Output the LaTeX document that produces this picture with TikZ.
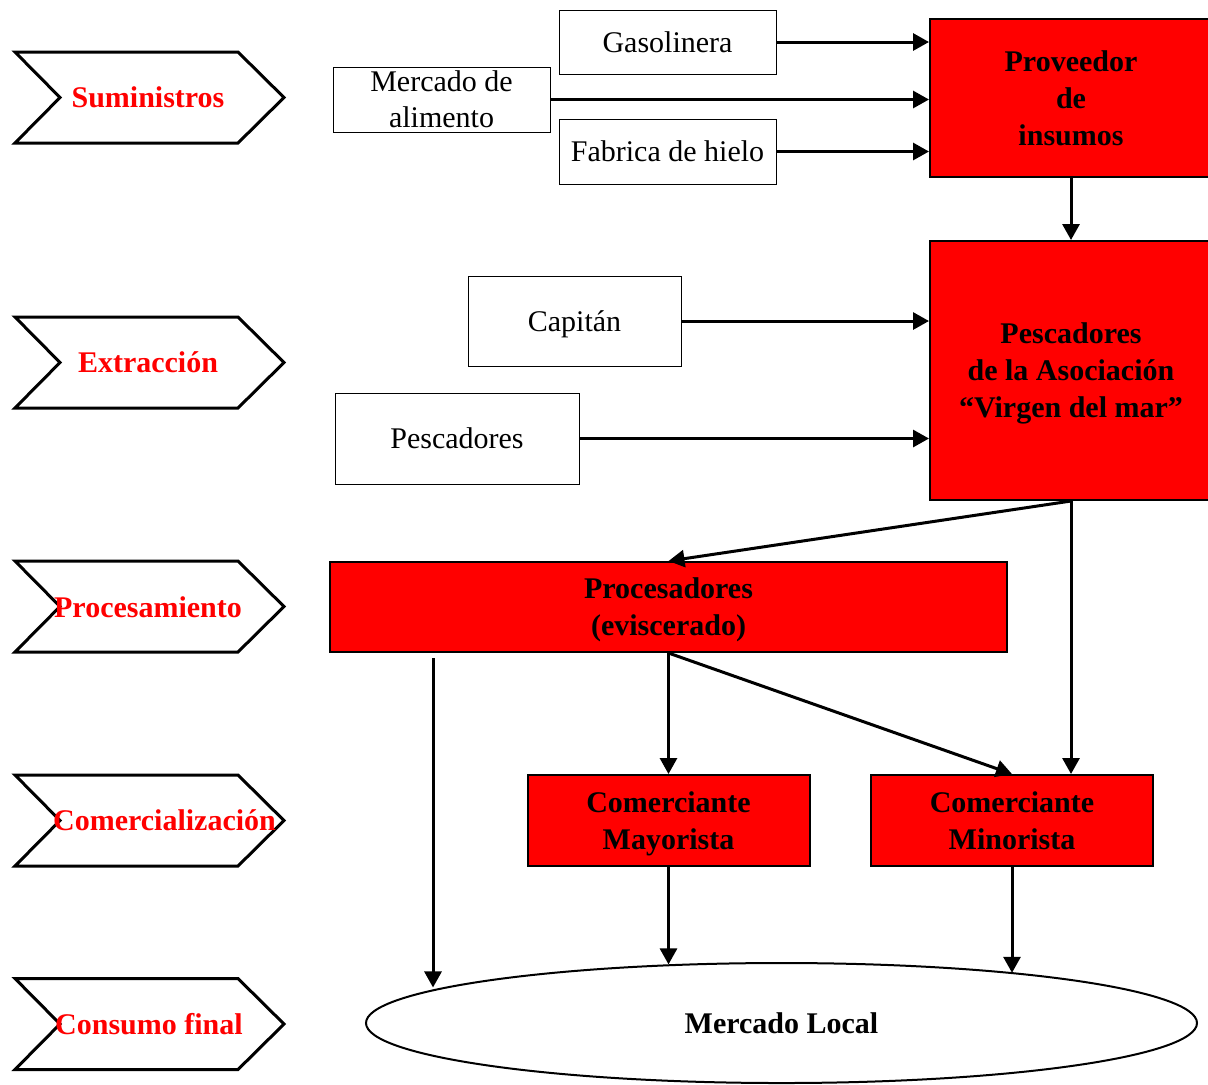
\documentclass[tikz,border=0pt]{standalone}
\usepackage{fontspec}
\setmainfont{Liberation Serif}
\usetikzlibrary{arrows.meta,shapes.geometric}
\newcommand{\nodp}[1]{\raisebox{0pt}[\height][0pt]{#1}}
\begin{document}
\begin{tikzpicture}[x=0.5pt,y=-0.5pt,
 wbox/.style={draw,line width=0.5pt,fill=white,inner sep=0pt,align=center,font=\fontsize{15}{18}\selectfont},
 rbox/.style={draw,line width=1pt,fill=red,inner sep=0pt,align=center,font=\fontsize{15}{18.5}\selectfont\bfseries},
 arr/.style={line width=1.5pt,-{Triangle[length=8pt,width=8.5pt]}},
 chev/.style={line width=1.5pt,line join=miter},
 chevtxt/.style={text=red,font=\fontsize{15}{18}\selectfont\bfseries}]
\useasboundingbox (0,0) rectangle (1208,1084);

% chevrons
\foreach \yc in {97.5,362.5,606.5,820.5,1024}{
  \draw[chev] (15,\yc-45.5) -- (238,\yc-45.5) -- (284,\yc) -- (238,\yc+45.5) -- (15,\yc+45.5) -- (60,\yc) -- cycle;
}
\node[chevtxt] (tsum) at (148,97.5) {Suministros};
\node[chevtxt] (text) at (148,362.5) {Extracción};
\node[chevtxt] (tpro) at (148,607.5) {Procesamiento};
\node[chevtxt] (tcom) at (164.5,820.5) {Comercialización};
\node[chevtxt] (tcon) at (149,1024) {Consumo final};

% boxes
\node[wbox,minimum width=108.5pt,minimum height=32pt] (gas) at (667.5,42) {Gasolinera};
\node[wbox,minimum width=108.5pt,minimum height=32.5pt] (merc) at (441.5,99.5) {Mercado de\\alimento};
\node[wbox,minimum width=108.5pt,minimum height=32.5pt] (fab) at (667.5,151.5) {Fabrica de hielo};
\node[rbox,minimum width=141pt,minimum height=79pt] (prov) at (1071,98) {Proveedor\\de\\insumos};
\node[rbox,minimum width=141pt,minimum height=129.5pt] (asoc) at (1071,370.5) {Pescadores\\de la Asociación\\\nodp{“Virgen del mar”}};
\node[wbox,minimum width=106.5pt,minimum height=45pt] (cap) at (574.5,321) {\nodp{Capitán}};
\node[wbox,minimum width=122pt,minimum height=45.5pt] (pes) at (457,438.5) {Pescadores};
\node[rbox,minimum width=338.5pt,minimum height=45pt] (proc) at (668.5,607) {Procesadores\\\nodp{(eviscerado)}};
\node[rbox,minimum width=141pt,minimum height=45.5pt] (mayo) at (668.5,820.5) {Comerciante\\\nodp{Mayorista}};
\node[rbox,minimum width=141pt,minimum height=45.5pt] (mino) at (1012,820.5) {Comerciante\\Minorista};
\node[draw,ellipse,line width=1pt,inner sep=0pt,minimum width=415.5pt,minimum height=60pt,font=\fontsize{15}{18}\selectfont\bfseries] (ml) at (781.5,1023) {Mercado Local};

% connectors
\draw[arr] (gas.east) -- (gas.east -| prov.west);
\draw[arr] (merc.east) -- (merc.east -| prov.west);
\draw[arr] (fab.east) -- (fab.east -| prov.west);
\draw[arr] (prov.south) -- (asoc.north);
\draw[arr] (cap.east) -- (cap.east -| asoc.west);
\draw[arr] (pes.east) -- (pes.east -| asoc.west);
\draw[arr] (asoc.south) -- (proc.north);
\draw[arr] (asoc.south) -- (asoc.south |- mino.north);
\draw[arr] (proc.south) -- (mayo.north);
\draw[arr] (proc.south) -- (mino.north);
\coordinate (pstart) at (433,658);
\draw[arr] (pstart) -- (pstart |- ml.174.6);
\draw[arr] (mayo.south) -- (mayo.south |- ml.153);
\draw[arr] (mino.south) -- (mino.south |- ml.12.24);
\end{tikzpicture}
\end{document}
